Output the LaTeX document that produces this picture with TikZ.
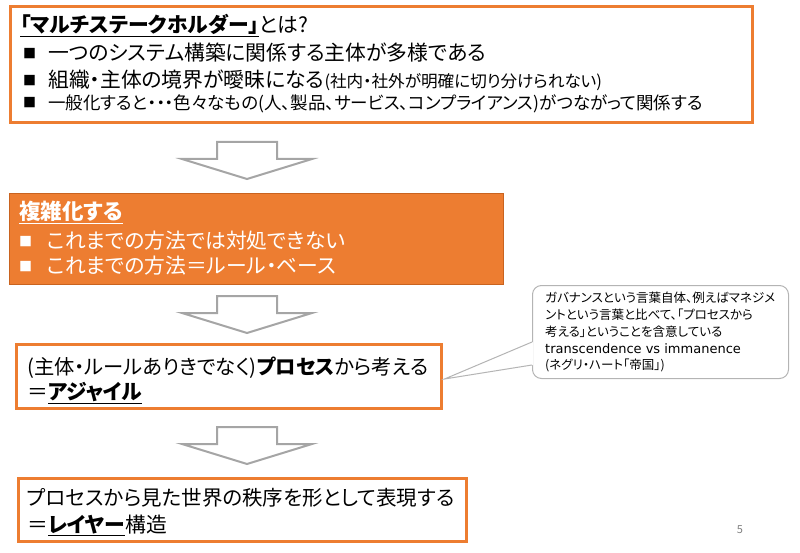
\documentclass[tikz,border=0pt]{standalone}
\usepackage{fontspec}
\setmainfont{Noto Sans CJK JP}[RawFeature=+palt]
\newfontfamily\latinfont{DejaVu Sans}
\usepackage{tikz}
\usetikzlibrary{calc}
\definecolor{ofOrange}{HTML}{ED7D31}
\definecolor{ofRim}{HTML}{C9631F}
\definecolor{ofGray}{HTML}{A5A5A5}
\definecolor{ofCall}{HTML}{B4B4B4}
\newcommand{\sq}{\raisebox{2pt}{\fontsize{13}{13}\selectfont ■}}
\newcommand{\bul}{\makebox[25pt][l]{\sq}}
\newcommand{\undl}[1]{\underline{#1}}

\begin{document}
\begin{tikzpicture}[x=1pt, y=-1pt, font=\fontsize{20.8}{24}\selectfont,
  frame/.style={draw=ofOrange, line width=3pt, fill=white, inner sep=0pt},
  txt/.style={anchor=base west, inner sep=0pt},
  small/.style={font=\fontsize{17.5}{20}\selectfont},
  blockarrow/.pic={\draw[ofGray, line width=2pt, fill=white, line join=miter]
    (-30,0) -- (30,0) -- (30,17) -- (65,17) -- (0,37) -- (-65,17) -- (-30,17) -- cycle;}]
  \useasboundingbox (0,0) rectangle (800,553);

  % top box
  \node[frame, minimum width=742, minimum height=116] (stake) at (381.5,64.5) {};
  \node[txt] (stakeT) at (20,33) {\textbf{\undl{「マルチステークホルダー」}}とは?};
  \node[txt] (stakeA) at (23,60.6) {\bul 一つのシステム構築に関係する主体が多様である};
  \node[txt] (stakeB) at (23,87.6) {\bul 組織・主体の境界が曖昧になる{\fontsize{16.6}{19}\selectfont (社内・社外が明確に切り分けられない)}};
  \node[txt, small] (stakeC) at (23,109.5) {\bul 一般化すると・・・色々なもの(人、製品、サービス、コンプライアンス)がつながって関係する};

  \pic (arrowA) at (247,142) {blockarrow};

  % filled box
  \node[draw=ofRim, line width=1pt, fill=ofOrange, inner sep=0pt, minimum width=494, minimum height=91] (complex) at (256.5,239) {};
  \node[txt, text=white, font=\fontsize{21.5}{24}\selectfont] (complexT) at (19,220) {\textbf{\undl{複雑化する}}};
  \node[txt, text=white] (complexA) at (19,248.6) {\makebox[28pt][l]{\sq}これまでの方法では対処できない};
  \node[txt, text=white] (complexB) at (19,273.6) {\makebox[28pt][l]{\sq}これまでの方法＝ルール・ベース};

  \pic (arrowB) at (247,296) {blockarrow};

  \node[frame, minimum width=425, minimum height=64] (agile) at (229,376.5) {};
  \node[txt, font=\fontsize{20.3}{24}\selectfont] (agileA) at (27,374.6) {(主体・ルールありきでなく)\textbf{プロセス}から考える};
  \node[txt] (agileB) at (27,399.6) {＝\textbf{\undl{アジャイル}}};

  \pic (arrowC) at (247,427) {blockarrow};

  \node[frame, minimum width=448, minimum height=63] (layer) at (242.5,510) {};
  \node[txt, font=\fontsize{20.5}{24}\selectfont] (layerA) at (27,505.6) {プロセスから見た世界の秩序を形として表現する};
  \node[txt] (layerB) at (27,532.6) {＝\textbf{\undl{レイヤー}}構造};

  % callout
  \node[draw=ofCall, line width=1pt, rounded corners=9pt, fill=white, minimum width=256, minimum height=93] (note) at (660.5,332) {};
  \coordinate (tip) at ($(agile.east)+(1.5,2.5)$);
  \fill[white] (tip) -- ($(note.west)+(1,10)$) -- ($(note.west)+(1,33)$) -- cycle;
  \draw[ofCall, line width=1pt] ($(note.west)+(0,10)$) -- (tip) -- ($(note.west)+(0,33)$);
  \node[anchor=north west, align=left, inner sep=0pt, font=\fontsize{12.5}{16.8}\selectfont] (noteT) at (545,292)
    {ガバナンスという言葉自体、例えばマネジメ\\ントという言葉と比べて、「プロセスから\\考える」ということを含意している\\{\latinfont\fontsize{13}{16.8}\selectfont transcendence vs immanence}\\(ネグリ・ハート「帝国」)};

  \node[text=gray, font=\fontsize{11}{13}\selectfont] (pageno) at (740,530) {5};
\end{tikzpicture}
\end{document}
